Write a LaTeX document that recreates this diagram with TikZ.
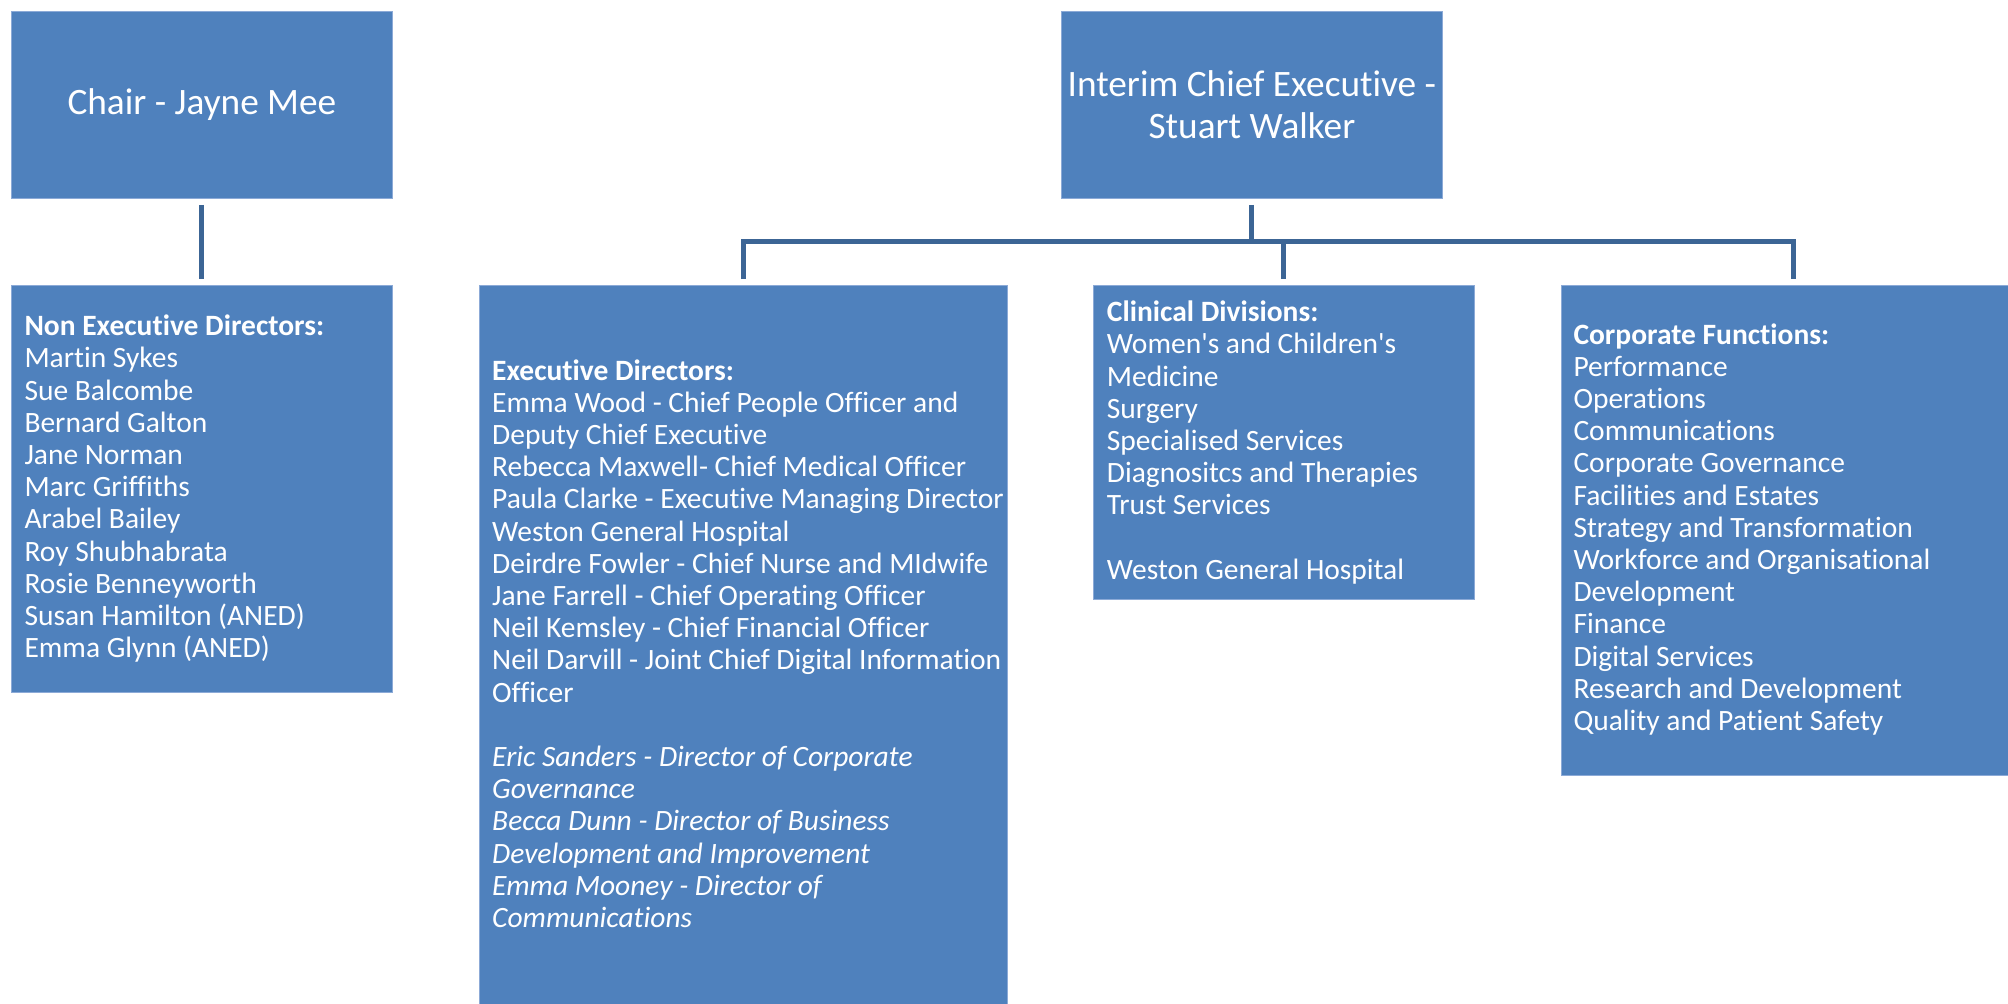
\documentclass[tikz,border=0pt]{standalone}
\usepackage{fontspec}
\setmainfont{Carlito}[Ligatures={TeXOff,NoCommon}]
\definecolor{boxblue}{HTML}{4F81BD}
\definecolor{boxedge}{HTML}{8CAAD7}
\definecolor{connblue}{HTML}{3C6595}
\begin{document}
\begin{tikzpicture}[x=1pt,y=-1pt,
  box/.style={fill=boxblue, draw=boxedge, line width=0.8pt, inner sep=0pt, anchor=north west},
  conn/.style={draw=connblue, line width=5pt},
  head/.style={text=white, font=\fontsize{37.3}{41.5}\selectfont, align=center},
  body/.style={text=white, font=\fontsize{29.5}{32.2}\selectfont, anchor=base west, inner sep=0pt}]
\useasboundingbox (0,0) rectangle (2008,1004);

% boxes
\node[box, head, minimum width=381, minimum height=187] (chair) at (11,11) {Chair - Jayne Mee};
\node[box, head, minimum width=381, minimum height=187] (ceo) at (1061,11) {Interim Chief Executive -\\Stuart Walker};
\node[box, minimum width=381, minimum height=407] (ned) at (11,285) {};
\node[box, minimum width=528, minimum height=730] (exec) at (478.6,285) {};
\node[box, minimum width=381, minimum height=314] (clin) at (1093,285) {};
\node[box, minimum width=464, minimum height=490] (corp) at (1561,285) {};

% texts
\node[body] (nedtext) at (24.3,335.7) {\begin{tabular}[t]{@{}l@{}}
\textbf{Non Executive Directors:}\\
Martin Sykes\\
Sue Balcombe\\
Bernard Galton\\
Jane Norman\\
Marc Griffiths\\
Arabel Bailey\\
Roy Shubhabrata\\
Rosie Benneyworth\\
Susan Hamilton (ANED)\\
Emma Glynn (ANED)
\end{tabular}};

\node[body] (exectext) at (492,380) {\begin{tabular}[t]{@{}l@{}}
\textbf{Executive Directors:}\\
Emma Wood - Chief People Officer and\\
Deputy Chief Executive\\
Rebecca Maxwell- Chief Medical Officer\\
Paula Clarke - Executive Managing Director\\
Weston General Hospital\\
Deirdre Fowler - Chief Nurse and MIdwife\\
Jane Farrell - Chief Operating Officer\\
Neil Kemsley - Chief Financial Officer\\
Neil Darvill - Joint Chief Digital Information\\
Officer\\
\\
\textit{Eric Sanders - Director of Corporate}\\
\textit{Governance}\\
\textit{Becca Dunn - Director of Business}\\
\textit{Development and Improvement}\\
\textit{Emma Mooney - Director of}\\
\textit{Communications}
\end{tabular}};

\node[body] (clintext) at (1106.7,321.7) {\begin{tabular}[t]{@{}l@{}}
\textbf{Clinical Divisions:}\\
Women's and Children's\\
Medicine\\
Surgery\\
Specialised Services\\
Diagnositcs and Therapies\\
Trust Services\\
\\
Weston General Hospital
\end{tabular}};

\node[body] (corptext) at (1573.3,344) {\begin{tabular}[t]{@{}l@{}}
\textbf{Corporate Functions:}\\
Performance\\
Operations\\
Communications\\
Corporate Governance\\
Facilities and Estates\\
Strategy and Transformation\\
Workforce and Organisational\\
Development\\
Finance\\
Digital Services\\
Research and Development\\
Quality and Patient Safety
\end{tabular}};

% connectors
\coordinate (barline) at (0,241.7);
\coordinate (chairS) at ([yshift=-6pt]chair.south);
\coordinate (nedN) at ([yshift=6pt]ned.north);
\coordinate (ceoS) at ([yshift=-6pt]ceo.south);
\coordinate (execN) at ([yshift=6pt]exec.north);
\coordinate (clinN) at ([yshift=6pt]clin.north);
\coordinate (corpN) at ([yshift=6pt]corp.north);
\draw[conn] (chairS) -- (nedN);
\draw[conn] (ceoS) -- (ceoS |- barline);
\draw[conn, line join=miter] (execN) -- (execN |- barline) -- (corpN |- barline) -- (corpN);
\draw[conn] (clinN |- barline) -- (clinN);
\end{tikzpicture}
\end{document}
